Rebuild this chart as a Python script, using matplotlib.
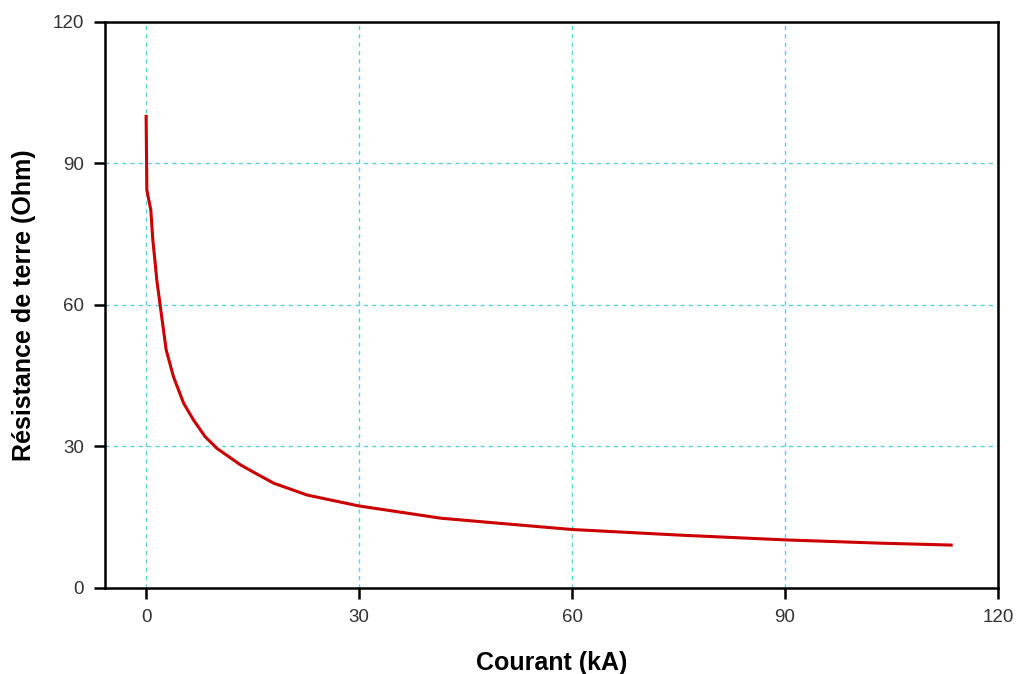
import matplotlib
matplotlib.use("Agg")
import matplotlib.pyplot as plt

# current (kA) vs earth resistance (Ohm)
courant = [0.0, 0.02, 0.1, 0.66, 0.94, 1.27, 1.5, 1.97, 2.82, 3.85, 5.27, 6.68,
           8.3, 9.97, 13.3, 15.8, 18.0, 22.7, 29.95, 41.5, 49.9, 60.0, 75.3,
           90.0, 103.5, 113.4]
resistance = [100.0, 96.7, 84.4, 80.1, 73.8, 68.9, 65.3, 60.0, 50.5, 44.8, 39.2,
              35.6, 32.1, 29.6, 26.1, 24.0, 22.2, 19.7, 17.4, 14.8, 13.7, 12.4,
              11.2, 10.2, 9.5, 9.1]

plt.rcParams["font.family"] = ["Liberation Sans", "DejaVu Sans"]

fig = plt.figure(figsize=(10.21, 6.74), dpi=100)
ax = fig.add_axes([0.1028, 0.1276, 0.8747, 0.8398])

ax.plot(courant, resistance, color="#cc0000", lw=2.2)

ax.set_xlim(-5.8, 120)
ax.set_ylim(0, 120)
ax.set_xticks([0, 30, 60, 90, 120])
ax.set_yticks([0, 30, 60, 90, 120])
ax.grid(True, color="#5ccfe0", ls=(0, (3, 3)), lw=1)
ax.set_axisbelow(True)

for s in ax.spines.values():
    s.set_linewidth(1.8)
ax.tick_params(direction="out", length=8, width=1.8, labelsize=13.5,
               labelcolor="#333333", pad=7)

ax.set_xlabel("Courant (kA)", fontsize=18, fontweight="bold", labelpad=18)
ax.set_ylabel("Résistance de terre (Ohm)", fontsize=18, fontweight="bold", labelpad=12)

fig.savefig("out.png", dpi=100, facecolor="white")
